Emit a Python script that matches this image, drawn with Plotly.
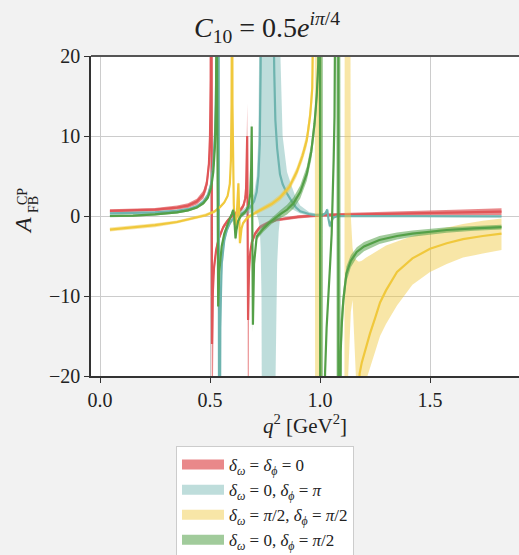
import plotly.graph_objects as go

# ---------------- data ----------------
# q^2 sample points and A_FB^CP values (central, lower band, upper band)
RED_Q = [0.045, 0.15, 0.25, 0.35, 0.40, 0.44, 0.47, 0.485, 0.495, 0.500, 0.503, 0.506, 0.509, 0.512,
         0.518, 0.528, 0.54, 0.56, 0.58, 0.60, 0.62, 0.64, 0.652, 0.66, 0.664, 0.667, 0.669, 0.671,
         0.673, 0.677, 0.683, 0.69, 0.705, 0.727, 0.76, 0.80, 0.90, 1.00, 1.10, 1.30, 1.50, 1.65, 1.825]
RED_MID = [0.65, 0.7, 0.8, 1.05, 1.3, 1.8, 2.7, 4.0, 6.5, 10.0, 17.0, 60, -16, -10, -6.5, -4.2, -2.8,
           -1.4, -0.6, 0.0, 0.4, 0.8, 1.3, 2.2, 3.5, 6.5, 10.0, -1.0, -13, -7, -4.5, -3.3, -2.2, -1.4,
           -0.9, -0.5, -0.1, 0.1, 0.15, 0.25, 0.35, 0.45, 0.55]
RED_LO = [0.45, 0.5, 0.6, 0.8, 1.0, 1.45, 2.2, 3.3, 5.3, 8.0, 13.0, 30, -60, -25, -7.5, -4.8, -3.2,
          -1.7, -0.85, -0.25, 0.15, 0.5, 0.95, 1.7, 2.7, 5.0, 8.0, -5.0, -60, -9, -5.2, -3.7, -2.5,
          -1.65, -1.1, -0.7, -0.3, -0.1, -0.07, 0.0, 0.05, 0.1, 0.12]
RED_HI = [0.85, 0.9, 1.0, 1.3, 1.6, 2.15, 3.2, 4.7, 7.8, 12.5, 22.0, 60, -12, -8.5, -5.7, -3.7, -2.4,
          -1.1, -0.35, 0.25, 0.65, 1.1, 1.65, 2.8, 4.5, 9.0, 14.0, 3.0, -10, -5.8, -4.0, -2.9, -1.9,
          -1.15, -0.7, -0.3, 0.1, 0.3, 0.37, 0.5, 0.65, 0.8, 0.98]

TEAL_Q = [0.045, 0.15, 0.25, 0.35, 0.40, 0.44, 0.47, 0.49, 0.505, 0.515, 0.524, 0.530, 0.535, 0.538,
          0.542, 0.546, 0.553, 0.565, 0.576, 0.59, 0.60, 0.62, 0.65, 0.68, 0.70, 0.712, 0.72, 0.726,
          0.730, 0.734, 0.739, 0.78, 0.786, 0.792, 0.797, 0.805, 0.812, 0.818, 0.83, 0.85, 0.87, 0.89,
          0.91, 0.95, 0.98, 1.01, 1.025, 1.033, 1.038, 1.045, 1.052, 1.06, 1.08, 1.30, 1.825]
TEAL_MID = [0.33, 0.36, 0.45, 0.65, 0.85, 1.2, 1.8, 2.6, 4.0, 6.5, 11, 20, 60, 60, -60, -14, -6, -3.0,
            -1.8, -0.9, -0.5, 0.0, 0.4, 1.0, 1.8, 3.0, 5.0, 9.0, 18, 60, 60, 60, 30, 18, 12, 8.5, 6.5,
            5.2, 4.0, 2.8, 1.9, 1.1, 0.6, 0.25, 0.12, 0.1, 0.35, 0.8, -0.3, -1.3, -0.7, -0.2, 0.0, 0.0,
            -0.05]
TEAL_LO = [0.18, 0.21, 0.3, 0.5, 0.7, 1.0, 1.55, 2.3, 3.6, 5.8, 9.5, 16, 30, -60, -60, -60, -8, -3.6,
           -2.2, -1.2, -0.8, -0.3, 0.0, 0.4, 0.6, 0.2, -0.5, -1.5, -4, -10, -60, -60, -60, -60, -22,
           -6, -2, -0.3, 0.6, 1.1, 0.9, 0.55, 0.3, 0.1, 0.0, -0.02, 0.2, 0.6, -0.6, -1.6, -0.9, -0.35,
           -0.1, -0.1, -0.15]
TEAL_HI = [0.48, 0.51, 0.6, 0.8, 1.0, 1.4, 2.05, 2.9, 4.5, 7.3, 13, 26, 60, 60, 60, -9, -4.8, -2.5,
           -1.4, -0.6, -0.2, 0.3, 0.8, 1.6, 2.8, 5.0, 10, 30, 60, 60, 60, 60, 60, 60, 60, 60, 40, 22,
           10, 5.5, 3.8, 2.3, 1.3, 0.5, 0.3, 0.25, 0.5, 1.0, 0.0, -1.0, -0.5, -0.05, 0.1, 0.1, 0.05]

YEL_Q = [0.045, 0.15, 0.25, 0.35, 0.42, 0.48, 0.52, 0.545, 0.565, 0.58, 0.59, 0.595, 0.598, 0.5995,
         0.6005, 0.602, 0.605, 0.608, 0.612, 0.617, 0.622, 0.626, 0.629, 0.632, 0.634, 0.636, 0.639,
         0.643, 0.65, 0.67, 0.70, 0.74, 0.78, 0.818, 0.86, 0.894, 0.92, 0.94, 0.955, 0.965, 0.972,
         0.976, 0.979, 0.998, 1.002, 1.006, 1.009, 1.11, 1.113, 1.128, 1.136, 1.140, 1.148, 1.158,
         1.167, 1.174, 1.18, 1.19, 1.21, 1.227, 1.25, 1.273, 1.30, 1.35, 1.42, 1.50, 1.576, 1.65,
         1.74, 1.825]
YEL_MID = [-1.7, -1.45, -1.15, -0.75, -0.3, 0.1, 0.55, 1.1, 1.7, 2.5, 4.0, 7, 14, 40, 40, 14, 5, 1.5,
           -1.0, -1.3, 0.3, 2.5, 4.1, 1.0, -1.5, -3.4, -2.6, -1.6, -0.9, -0.2, 0.3, 0.9, 1.5, 2.3,
           3.6, 5.5, 7.5, 9.5, 12.5, 16, 24, 60, 60, 60, -60, -60, -60, -60, -60, -60, -60, -60, -60,
           -60, -60, -26, -19.7, -18.3, -16.3, -14.7, -12.8, -10.8, -9.3, -7.0, -5.3, -4.1, -3.4,
           -2.9, -2.5, -2.2]
YEL_LO = [-1.95, -1.7, -1.4, -0.95, -0.5, -0.1, 0.35, 0.9, 1.5, 2.3, 3.7, 6.5, 13, 36, 36, 13, 4.6,
          1.2, -1.3, -1.6, 0.0, 2.1, 3.6, 0.6, -1.9, -3.8, -2.9, -1.9, -1.15, -0.45, 0.05, 0.6, 1.15,
          1.9, 3.1, 4.9, 6.8, 8.7, 11.3, 14.3, 20, 28, -60, -60, -60, -60, -60, -60, -60, -20, -14,
          -12, -10.5, -16, -22, -27, -24.5, -24, -20.5, -19, -17, -15, -13.5, -11.2, -8.6, -7.0,
          -6.0, -5.2, -4.7, -4.25]
YEL_HI = [-1.45, -1.2, -0.9, -0.55, -0.1, 0.3, 0.75, 1.3, 1.9, 2.7, 4.3, 7.5, 15, 44, 44, 15, 5.4,
          1.8, -0.7, -1.0, 0.6, 2.9, 4.6, 1.4, -1.1, -3.0, -2.3, -1.3, -0.65, 0.05, 0.55, 1.2, 1.85,
          2.7, 4.1, 6.1, 8.2, 10.4, 13.8, 18.5, 30, 60, 60, 60, 60, 60, -60, -60, 60, 60, 60, 0, -4,
          -5.3, -5.6, -5.7, -5.7, -5.6, -5.2, -4.9, -4.5, -4.1, -3.7, -3.2, -2.5, -1.9, -1.4, -1.0,
          -0.6, -0.3]

GRN_Q = [0.045, 0.15, 0.25, 0.35, 0.40, 0.44, 0.47, 0.49, 0.505, 0.515, 0.522, 0.527, 0.5305, 0.537,
         0.542, 0.553, 0.565, 0.576, 0.59, 0.60, 0.605, 0.609, 0.613, 0.616, 0.62, 0.628, 0.64, 0.66,
         0.675, 0.683, 0.687, 0.6895, 0.692, 0.695, 0.70, 0.712, 0.742, 0.78, 0.818, 0.85, 0.879,
         0.91, 0.94, 0.96, 0.975, 0.985, 0.992, 0.996, 0.999, 1.002, 1.012, 1.015, 1.019, 1.023,
         1.03, 1.038, 1.046, 1.053, 1.058, 1.062, 1.066, 1.069, 1.072, 1.074, 1.076, 1.083, 1.084,
         1.088, 1.091, 1.094, 1.098, 1.106, 1.12, 1.14, 1.167, 1.2, 1.27, 1.35, 1.42, 1.5, 1.576,
         1.7, 1.825]
GRN_MID = [0.0, 0.05, 0.2, 0.45, 0.7, 1.05, 1.6, 2.3, 3.5, 5.5, 8.5, 14, 30, -11.3, -7, -3.8, -2.2,
           -1.3, -0.3, 0.3, 0.75, 0.2, -2.0, -2.8, -1.8, -0.6, 0.0, 0.5, 1.2, 2.8, 6, 11.2, 0, -13.6,
           -6, -2.6, -1.6, -0.6, 0.2, 0.8, 1.6, 3.0, 5.3, 8.0, 11.5, 15, 19, 40, 60, -60, -60, -60,
           -30, -19.6, -14, -10.5, -6, -2.2, 2, 7, 12.5, 18, 30, 60, 60, 60, -60, -60, -22, -17, -14,
           -10.5, -7.2, -5.6, -4.5, -3.8, -3.0, -2.5, -2.2, -1.95, -1.75, -1.55, -1.4]
GRN_LO = [-0.15, -0.1, 0.05, 0.3, 0.55, 0.9, 1.4, 2.05, 3.2, 5.0, 7.8, 13, 28, -12.3, -7.6, -4.2,
          -2.5, -1.55, -0.55, 0.05, 0.5, -0.05, -2.3, -3.1, -2.1, -0.85, -0.25, 0.25, 0.9, 2.4, 5.4,
          10.4, -0.8, -14.6, -6.6, -3.0, -2.0, -1.0, -0.3, 0.2, 0.9, 2.2, 4.4, 7.0, 10.2, 13.4, 17,
          30, -60, -60, -60, -60, -31, -20.2, -14.5, -10.9, -6.3, -2.5, 1.7, 6.6, 12, 17.4, 28, 40,
          -60, -60, -60, -60, -60, -60, -17, -12, -8.2, -6.4, -5.2, -4.4, -3.5, -2.95, -2.6, -2.3,
          -2.1, -1.85, -1.7]
GRN_HI = [0.15, 0.2, 0.35, 0.6, 0.85, 1.2, 1.8, 2.55, 3.8, 6.0, 9.2, 15, 33, -10.3, -6.4, -3.4,
          -1.9, -1.05, -0.05, 0.55, 1.0, 0.45, -1.7, -2.5, -1.5, -0.35, 0.25, 0.75, 1.5, 3.2, 6.6,
          12, 0.8, -12.6, -5.4, -2.2, -1.2, -0.2, 0.7, 1.4, 2.3, 3.8, 6.2, 9.0, 12.8, 16.6, 21.5, 60,
          60, 60, 60, -60, -29, -19, -13.5, -10.1, -5.7, -1.9, 2.3, 7.4, 13, 18.6, 32, 60, 60, 60, 60,
          60, 60, -13, -11.5, -9.2, -6.3, -4.9, -3.9, -3.25, -2.5, -2.05, -1.8, -1.6, -1.4, -1.25,
          -1.1]

SERIES = [
    ("red", RED_Q, RED_MID, RED_LO, RED_HI, (224, 86, 88), 0.70,
     "<i>δ</i><sub><i>ω</i></sub> = <i>δ</i><sub><i>ϕ</i></sub> = 0"),
    ("teal", TEAL_Q, TEAL_MID, TEAL_LO, TEAL_HI, (110, 180, 175), 0.45,
     "<i>δ</i><sub><i>ω</i></sub> = 0, <i>δ</i><sub><i>ϕ</i></sub> = <i>π</i>"),
    ("yellow", YEL_Q, YEL_MID, YEL_LO, YEL_HI, (240, 200, 60), 0.45,
     "<i>δ</i><sub><i>ω</i></sub> = <i>π</i>/2, <i>δ</i><sub><i>ϕ</i></sub> = <i>π</i>/2"),
    ("green", GRN_Q, GRN_MID, GRN_LO, GRN_HI, (84, 160, 72), 0.55,
     "<i>δ</i><sub><i>ω</i></sub> = 0, <i>δ</i><sub><i>ϕ</i></sub> = <i>π</i>/2"),
]

X_TICKS = [0.0, 0.5, 1.0, 1.5]
X_TICKTEXT = ["0.0", "0.5", "1.0", "1.5"]
Y_TICKS = [-20, -10, 0, 10, 20]

FONT = "Liberation Serif"

fig = go.Figure()
for key, q, mid, lo, hi, rgb, alpha, label in SERIES:
    fill = f"rgba({rgb[0]},{rgb[1]},{rgb[2]},{alpha})"
    line = f"rgb({rgb[0]},{rgb[1]},{rgb[2]})"
    fig.add_trace(go.Scatter(x=q, y=lo, mode="lines", line=dict(width=0, color=fill),
                             showlegend=False, hoverinfo="skip"))
    fig.add_trace(go.Scatter(x=q, y=hi, mode="lines", line=dict(width=0, color=fill),
                             fill="tonexty", fillcolor=fill, showlegend=False, hoverinfo="skip"))
    fig.add_trace(go.Scatter(x=q, y=mid, mode="lines", line=dict(width=2.2, color=line),
                             showlegend=False))

# legend entries (patches)
for key, q, mid, lo, hi, rgb, alpha, label in SERIES:
    fill = f"rgba({rgb[0]},{rgb[1]},{rgb[2]},{alpha})"
    fig.add_trace(go.Scatter(x=[None], y=[None], mode="lines", name=label, legendgroup=key,
                             line=dict(width=12, color=fill), showlegend=True))

fig.add_shape(type="line", xref="paper", yref="paper", x0=0, x1=1, y0=1, y1=1,
              line=dict(color="#555555", width=2))

fig.update_layout(
    width=519, height=555,
    margin=dict(l=91, r=0, t=56, b=179, autoexpand=False),
    paper_bgcolor="#f2f2f2", plot_bgcolor="white",
    font=dict(family=FONT, size=20, color="#222222"),
    title=dict(text="<i>C</i><sub>10</sub> = 0.5<i>e</i><sup><i>iπ</i>/4</sup>",
               x=267 / 519, xref="container", xanchor="center",
               y=1 - 27 / 555, yref="container", yanchor="middle",
               font=dict(family=FONT, size=28, color="#222222")),
    xaxis=dict(range=[-0.041, 1.9045], tickvals=X_TICKS, ticktext=X_TICKTEXT,
               ticks="outside", ticklen=5, tickwidth=1.3, tickcolor="#333333",
               showline=True, linecolor="#333333", linewidth=1.5,
               showgrid=True, gridcolor="#cccccc", gridwidth=1.3, zeroline=False,
               tickfont=dict(size=20),
               title=dict(text="<i>q</i><sup>2</sup> [GeV<sup>2</sup>]", standoff=8,
                          font=dict(size=21))),
    yaxis=dict(range=[-20, 20], tickvals=Y_TICKS,
               ticks="outside", ticklen=5, tickwidth=1.3, tickcolor="#333333",
               showline=True, linecolor="#333333", linewidth=1.5,
               showgrid=True, gridcolor="#cccccc", gridwidth=1.3, zeroline=False,
               tickfont=dict(size=20)),
    legend=dict(x=(176 - 91) / 428, y=(376 - 446) / 320, xanchor="left", yanchor="top",
                bgcolor="white", bordercolor="#cccccc", borderwidth=1,
                traceorder="normal", tracegroupgap=6, itemwidth=42,
                font=dict(family=FONT, size=17, color="#222222")),
    showlegend=True,
)

# y-axis label A_FB^CP (rotated)
fig.add_annotation(text="<i>A</i>", textangle=-90, xref="paper", yref="paper",
                   x=(23 - 91) / 428, y=(376 - 226) / 320, xanchor="center", yanchor="middle",
                   showarrow=False, font=dict(family=FONT, size=24, color="#222222"))
fig.add_annotation(text="FB", textangle=-90, xref="paper", yref="paper",
                   x=(33 - 91) / 428, y=(376 - 205) / 320, xanchor="center", yanchor="middle",
                   showarrow=False, font=dict(family=FONT, size=14, color="#222222"))
fig.add_annotation(text="CP", textangle=-90, xref="paper", yref="paper",
                   x=(22 - 91) / 428, y=(376 - 197) / 320, xanchor="center", yanchor="middle",
                   showarrow=False, font=dict(family=FONT, size=14, color="#222222"))

fig.write_html("out.html")
